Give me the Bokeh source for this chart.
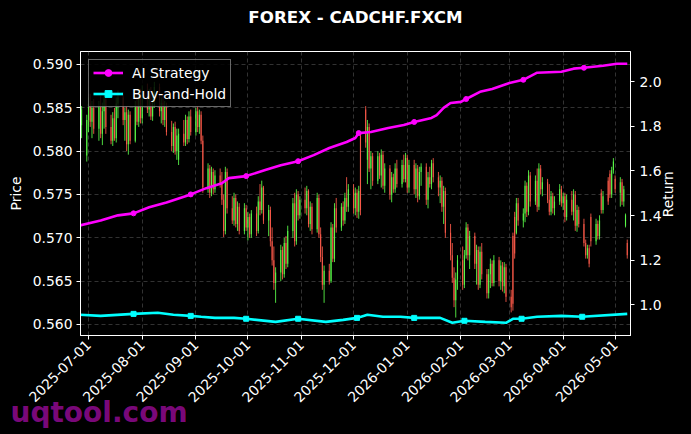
import math
import pandas as pd
from bokeh.plotting import figure
from bokeh.models import (Range1d, LinearAxis, FixedTicker, MonthsTicker, DatetimeTickFormatter,
                          NumeralTickFormatter, Legend, LegendItem, Title, ColumnDataSource)
from bokeh.embed import file_html
from bokeh.resources import INLINE

# ---------------- data ----------------
bar_dates = pd.bdate_range("2025-06-26", "2026-05-08")

# prices in pips (x 0.0001), one trading week per line
opens = [5842, 5830,
         5795, 5836, 5855, 5834, 5850,
         5826, 5852, 5820, 5846, 5860,
         5828, 5812, 5838, 5815, 5855,
         5862, 5836, 5845, 5808, 5842,
         5812, 5852, 5834, 5864, 5838,
         5870, 5848, 5866, 5840, 5862,
         5874, 5846, 5856, 5836, 5852,
         5822, 5806, 5828, 5800, 5790,
         5820, 5810, 5836, 5814, 5840,
         5822, 5846, 5828, 5842, 5812,
         5758, 5780, 5752, 5776, 5756,
         5772, 5762, 5744, 5708, 5776,
         5734, 5720, 5746, 5716, 5736,
         5708, 5734, 5712, 5724, 5704,
         5728, 5708, 5742, 5732, 5758,
         5720, 5732, 5696, 5674, 5648,
         5660, 5686, 5658, 5694, 5670,
         5708, 5740, 5696, 5750, 5726,
         5744, 5734, 5754, 5716, 5736,
         5710, 5746, 5704, 5678, 5646,
         5662, 5650, 5712, 5676, 5734,
         5712, 5736, 5720, 5746, 5736,
         5756, 5734, 5752, 5730, 5818,
         5848, 5790, 5828, 5780, 5794,
         5766, 5794, 5772, 5796, 5760,
         5780, 5750, 5770, 5756, 5780,
         5762, 5784, 5768, 5792, 5758,
         5784, 5756, 5780, 5748, 5776,
         5782, 5744, 5770, 5762, 5786,
         5770, 5758, 5766, 5736, 5754,
         5706, 5680, 5654, 5628, 5652,
         5674, 5646, 5680, 5712, 5680,
         5702, 5670, 5686, 5646, 5684,
         5658, 5636, 5658, 5670, 5648,
         5674, 5650, 5668, 5644, 5666,
         5632, 5702, 5724, 5706, 5740,
         5720, 5728, 5760, 5730, 5772,
         5742, 5766, 5736, 5780, 5756,
         5764, 5744, 5730, 5748, 5734,
         5742, 5756, 5740, 5748, 5724,
         5744, 5730, 5750, 5714, 5732,
         5716, 5694, 5680, 5688, 5724,
         5696, 5716, 5702, 5752, 5732,
         5766, 5774, 5750, 5778, 5768,
         5752, 5764, 5742, 5714, 5694]
highs = [5858, 5852,
         5842, 5862, 5866, 5858, 5860,
         5858, 5864, 5856, 5868, 5866,
         5842, 5845, 5850, 5862, 5870,
         5868, 5850, 5852, 5848, 5846,
         5858, 5866, 5870, 5872, 5876,
         5878, 5872, 5874, 5868, 5880,
         5878, 5862, 5866, 5858, 5856,
         5835, 5832, 5834, 5826, 5826,
         5836, 5842, 5840, 5846, 5848,
         5850, 5852, 5848, 5846, 5818,
         5786, 5784, 5782, 5780, 5778,
         5780, 5776, 5750, 5782, 5780,
         5748, 5752, 5750, 5742, 5740,
         5740, 5738, 5730, 5728, 5732,
         5736, 5748, 5762, 5766, 5760,
         5738, 5736, 5712, 5690, 5666,
         5692, 5690, 5700, 5702, 5714,
         5746, 5752, 5756, 5754, 5748,
         5758, 5760, 5756, 5742, 5740,
         5752, 5750, 5712, 5690, 5668,
         5670, 5718, 5716, 5740, 5746,
         5740, 5742, 5752, 5770, 5762,
         5762, 5758, 5756, 5760, 5822,
         5852, 5836, 5832, 5800, 5798,
         5800, 5798, 5802, 5800, 5786,
         5784, 5776, 5774, 5786, 5790,
         5790, 5796, 5798, 5796, 5790,
         5790, 5786, 5784, 5782, 5786,
         5786, 5776, 5782, 5790, 5792,
         5776, 5772, 5770, 5760, 5758,
         5716, 5694, 5666, 5660, 5680,
         5690, 5686, 5718, 5716, 5708,
         5706, 5692, 5690, 5690, 5694,
         5664, 5664, 5676, 5674, 5680,
         5678, 5674, 5672, 5672, 5670,
         5640, 5706, 5730, 5746, 5746,
         5734, 5766, 5764, 5778, 5776,
         5772, 5780, 5786, 5784, 5770,
         5768, 5762, 5754, 5752, 5748,
         5762, 5760, 5752, 5752, 5750,
         5754, 5756, 5754, 5738, 5736,
         5722, 5698, 5692, 5692, 5728,
         5722, 5720, 5726, 5756, 5754,
         5770, 5778, 5782, 5792, 5772,
         5770, 5768, 5760, 5728, 5698]
lows = [5825, 5815,
        5788, 5822, 5828, 5815, 5820,
        5812, 5815, 5807, 5826, 5820,
        5808, 5806, 5812, 5810, 5838,
        5830, 5812, 5800, 5796, 5808,
        5810, 5830, 5828, 5832, 5832,
        5844, 5840, 5836, 5835, 5850,
        5840, 5832, 5830, 5828, 5818,
        5800, 5798, 5796, 5790, 5784,
        5806, 5806, 5808, 5810, 5818,
        5818, 5822, 5820, 5808, 5752,
        5752, 5746, 5748, 5750, 5752,
        5758, 5738, 5701, 5704, 5728,
        5716, 5714, 5712, 5708, 5704,
        5704, 5708, 5697, 5700, 5700,
        5702, 5705, 5726, 5728, 5716,
        5702, 5690, 5668, 5640, 5625,
        5650, 5652, 5654, 5664, 5666,
        5700, 5690, 5692, 5720, 5722,
        5728, 5726, 5712, 5708, 5704,
        5706, 5700, 5672, 5640, 5625,
        5646, 5648, 5672, 5672, 5706,
        5708, 5714, 5716, 5730, 5730,
        5728, 5726, 5723, 5722, 5726,
        5804, 5762, 5776, 5756, 5760,
        5762, 5768, 5758, 5756, 5752,
        5744, 5741, 5752, 5752, 5758,
        5758, 5764, 5764, 5752, 5752,
        5750, 5746, 5741, 5744, 5760,
        5738, 5734, 5758, 5756, 5764,
        5748, 5740, 5730, 5716, 5700,
        5674, 5648, 5620, 5608, 5640,
        5640, 5642, 5676, 5674, 5664,
        5664, 5646, 5640, 5642, 5652,
        5630, 5630, 5642, 5644, 5644,
        5644, 5640, 5638, 5636, 5626,
        5614, 5616, 5676, 5704, 5714,
        5712, 5718, 5724, 5726, 5736,
        5738, 5730, 5732, 5750, 5748,
        5740, 5726, 5726, 5728, 5726,
        5738, 5736, 5732, 5718, 5720,
        5726, 5720, 5708, 5707, 5712,
        5690, 5676, 5676, 5666, 5690,
        5692, 5698, 5698, 5728, 5728,
        5738, 5746, 5746, 5774, 5752,
        5736, 5738, 5736, 5712, 5676]
closes = [5830, 5848,
          5836, 5855, 5834, 5850, 5826,
          5852, 5820, 5846, 5860, 5828,
          5812, 5838, 5815, 5855, 5862,
          5836, 5845, 5808, 5842, 5812,
          5852, 5834, 5864, 5838, 5870,
          5848, 5866, 5840, 5862, 5874,
          5846, 5856, 5836, 5852, 5822,
          5806, 5828, 5800, 5818, 5820,
          5810, 5836, 5814, 5840, 5822,
          5846, 5828, 5842, 5812, 5758,
          5780, 5752, 5776, 5756, 5772,
          5762, 5744, 5708, 5776, 5734,
          5720, 5746, 5716, 5736, 5708,
          5734, 5712, 5724, 5704, 5728,
          5708, 5742, 5732, 5758, 5720,
          5732, 5696, 5674, 5648, 5660,
          5686, 5658, 5694, 5670, 5708,
          5740, 5696, 5750, 5726, 5744,
          5734, 5754, 5716, 5736, 5710,
          5746, 5704, 5678, 5646, 5662,
          5650, 5712, 5676, 5734, 5712,
          5736, 5720, 5746, 5736, 5756,
          5734, 5752, 5730, 5754, 5732,
          5810, 5828, 5780, 5794, 5766,
          5794, 5772, 5796, 5760, 5780,
          5750, 5770, 5756, 5780, 5762,
          5784, 5768, 5792, 5758, 5784,
          5756, 5780, 5748, 5776, 5782,
          5744, 5770, 5762, 5786, 5770,
          5758, 5766, 5736, 5754, 5706,
          5680, 5654, 5628, 5652, 5674,
          5646, 5680, 5712, 5680, 5702,
          5670, 5686, 5646, 5684, 5658,
          5636, 5658, 5670, 5648, 5674,
          5650, 5668, 5644, 5666, 5632,
          5620, 5624, 5682, 5740, 5720,
          5728, 5760, 5730, 5772, 5742,
          5766, 5736, 5780, 5756, 5764,
          5744, 5730, 5748, 5734, 5742,
          5756, 5740, 5748, 5724, 5744,
          5730, 5750, 5714, 5732, 5716,
          5694, 5680, 5688, 5670, 5696,
          5716, 5702, 5720, 5732, 5748,
          5742, 5750, 5778, 5788, 5756,
          5764, 5742, 5756, 5726, 5680]

ai_dates = ["2025-06-26", "2025-07-08", "2025-07-18", "2025-07-27", "2025-08-05", "2025-08-15",
            "2025-08-29", "2025-09-07", "2025-09-16", "2025-09-20", "2025-09-30", "2025-10-11",
            "2025-10-20", "2025-10-30", "2025-11-08", "2025-11-17", "2025-11-27", "2025-12-02",
            "2025-12-04", "2025-12-11", "2025-12-21", "2025-12-30", "2026-01-05", "2026-01-15",
            "2026-01-18", "2026-01-22", "2026-01-26", "2026-02-01", "2026-02-04", "2026-02-12",
            "2026-02-19", "2026-03-01", "2026-03-09", "2026-03-17", "2026-03-31", "2026-04-07",
            "2026-04-13", "2026-04-24", "2026-05-02", "2026-05-08"]
ai_return = [1.356, 1.378, 1.401, 1.410, 1.437, 1.459,
             1.495, 1.523, 1.545, 1.568, 1.577, 1.604,
             1.626, 1.644, 1.671, 1.703, 1.730, 1.748,
             1.770, 1.775, 1.793, 1.806, 1.820, 1.838,
             1.851, 1.883, 1.905, 1.910, 1.923, 1.955,
             1.968, 1.995, 2.009, 2.041, 2.045, 2.059,
             2.063, 2.072, 2.081, 2.081]
ai_marker_idx = [3, 6, 10, 13, 18, 22, 28, 32, 36]

bh_dates = ["2025-06-26", "2025-07-08", "2025-07-27", "2025-08-10", "2025-08-19", "2025-08-29",
            "2025-09-04", "2025-09-12", "2025-09-23", "2025-09-30", "2025-10-17", "2025-10-30",
            "2025-11-15", "2025-11-25", "2025-12-03", "2025-12-09", "2025-12-18", "2025-12-28",
            "2026-01-05", "2026-01-20", "2026-01-27", "2026-02-03", "2026-02-15", "2026-02-27",
            "2026-03-03", "2026-03-08", "2026-03-17", "2026-03-31", "2026-04-12", "2026-05-08"]
bh_return = [0.955, 0.950, 0.959, 0.964, 0.955, 0.950,
             0.946, 0.941, 0.941, 0.937, 0.923, 0.937,
             0.923, 0.932, 0.941, 0.955, 0.946, 0.946,
             0.941, 0.941, 0.919, 0.928, 0.923, 0.919,
             0.937, 0.937, 0.946, 0.950, 0.946, 0.959]
bh_marker_idx = [2, 5, 9, 11, 14, 18, 21, 25, 28]

price_ticks = [0.560, 0.565, 0.570, 0.575, 0.580, 0.585, 0.590]
return_ticks = [1.0, 1.2, 1.4, 1.6, 1.8, 2.0]

# ---------------- styling ----------------
FONT = "DejaVu Sans"
FS = "13.9px"
UP = "#5cff4a"
DOWN = "#ff5a4a"
W, H = 691, 434
ML, MR, MT, MB = 80, 61, 51, 99
RETURN_LABEL_START = 1.392   # where the upward-reading "Return" label begins (return units)

o = [v / 10000 for v in opens]
h = [v / 10000 for v in highs]
l = [v / 10000 for v in lows]
c = [v / 10000 for v in closes]
colors = [UP if cc >= oo else DOWN for oo, cc in zip(o, c)]
src = ColumnDataSource(dict(x=bar_dates, o=o, h=h, l=l, c=c,
                            top=[max(a, b) for a, b in zip(o, c)],
                            bot=[min(a, b) for a, b in zip(o, c)], color=colors))

p = figure(width=W, height=H, x_axis_type="datetime", output_backend="svg", toolbar_location=None,
           x_range=Range1d(pd.Timestamp("2025-06-26 09:00"), pd.Timestamp("2026-05-09 21:00")),
           y_range=Range1d(0.55873, 0.5915),
           min_border_left=ML, min_border_right=MR, min_border_top=MT, min_border_bottom=MB,
           background_fill_color="black", border_fill_color="black",
           outline_line_color="white", outline_line_width=1)
p.extra_y_ranges = {"ret": Range1d(0.862, 2.136)}

day_ms = 24 * 3600 * 1000
p.segment(x0="x", y0="l", x1="x", y1="h", color="color", line_width=1, line_alpha=0.85, source=src)
p.vbar(x="x", width=0.65 * day_ms, top="top", bottom="bot", fill_color="color", line_color=None,
       fill_alpha=0.85, source=src)

ai_x = pd.to_datetime(ai_dates)
bh_x = pd.to_datetime(bh_dates)
ai_line = p.line(ai_x, ai_return, y_range_name="ret", line_color="#ff00ff", line_width=2.6)
ai_pts = p.scatter([ai_x[i] for i in ai_marker_idx], [ai_return[i] for i in ai_marker_idx],
                   y_range_name="ret", marker="circle", size=5, fill_color="#ff00ff", line_color="#ff00ff")
bh_line = p.line(bh_x, bh_return, y_range_name="ret", line_color="#00ffff", line_width=2.6)
bh_pts = p.scatter([bh_x[i] for i in bh_marker_idx], [bh_return[i] for i in bh_marker_idx],
                   y_range_name="ret", marker="square", size=5, fill_color="#00ffff", line_color="#00ffff")

# axes
def style_axis(ax):
    ax.axis_line_color = "white"
    ax.major_tick_line_color = "white"
    ax.minor_tick_line_color = None
    ax.major_tick_out = 4
    ax.major_tick_in = 0
    ax.major_label_text_color = "white"
    ax.major_label_text_font = FONT
    ax.major_label_text_font_size = FS
    ax.axis_label_text_color = "white"
    ax.axis_label_text_font = FONT
    ax.axis_label_text_font_size = FS
    ax.axis_label_text_font_style = "normal"

xa = p.xaxis[0]
style_axis(xa)
xa.ticker = MonthsTicker(months=list(range(1, 13)))
xa.formatter = DatetimeTickFormatter(months="%Y-%m-%d", days="%Y-%m-%d", years="%Y-%m-%d")
xa.major_label_orientation = math.pi / 4
xa.major_label_standoff = 3

ya = p.yaxis[0]
style_axis(ya)
ya.ticker = FixedTicker(ticks=price_ticks)
ya.formatter = NumeralTickFormatter(format="0.000")
ya.axis_label = "Price"
ya.major_label_standoff = 4
ya.axis_label_standoff = 6

ra = LinearAxis(y_range_name="ret")
style_axis(ra)
ra.ticker = FixedTicker(ticks=return_ticks)
ra.formatter = NumeralTickFormatter(format="0.0")
ra.major_label_standoff = 5
p.add_layout(ra, "right")

# "Return" axis title, reading bottom-to-top like the reference
rl = LinearAxis(y_range_name="ret")
style_axis(rl)
rl.axis_line_color = None
rl.major_tick_line_color = None
rl.major_tick_out = 0
rl.ticker = FixedTicker(ticks=[RETURN_LABEL_START])
rl.major_label_overrides = {RETURN_LABEL_START: "Return"}
rl.major_label_orientation = math.pi / 2
rl.major_label_standoff = 4
p.add_layout(rl, "right")

p.grid.grid_line_color = "#6a6a6a"
p.grid.grid_line_dash = "4 3"
p.grid.grid_line_width = 0.6
p.grid.grid_line_alpha = 0.8

legend = Legend(items=[LegendItem(label="AI Strategy", renderers=[ai_line, ai_pts]),
                       LegendItem(label="Buy-and-Hold", renderers=[bh_line, bh_pts])],
                location="top_left", margin=8, padding=4, spacing=4,
                glyph_width=30, glyph_height=17, label_height=17, label_standoff=9,
                label_text_color="white", label_text_font=FONT, label_text_font_size=FS,
                background_fill_color="black", background_fill_alpha=0.85,
                border_line_color="#d0d0d0", border_line_width=1)
p.add_layout(legend)

# title: a thin spacer next to the frame, then the real title further out
p.title.text = ""
spacer = Title(text=" ", text_font_size="2px", standoff=16, text_color="black")
p.add_layout(spacer, "above")
title = Title(text="FOREX - CADCHF.FXCM", align="center", vertical_align="middle", standoff=8,
              text_color="white", text_font=FONT, text_font_size="16.7px", text_font_style="bold")
p.add_layout(title, "above")

mark = Title(text="uqtool.com", align="left", offset=-70, standoff=-38,
             text_color="#8b0a8b", text_alpha=0.9, text_font=FONT,
             text_font_size="28px", text_font_style="bold")
p.add_layout(mark, "below")

html = file_html(p, INLINE)
html = html.replace("<head>", "<head><style>html, body {background: #000000;}</style>", 1)
open("out.html", "w").write(html)
